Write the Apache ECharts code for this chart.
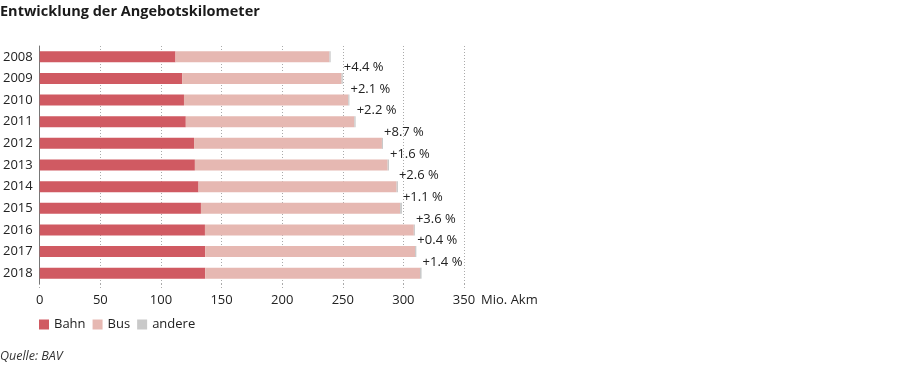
<!DOCTYPE html>
<html><head><meta charset="utf-8">
<script src="https://cdn.jsdelivr.net/npm/echarts@6/dist/echarts.min.js"></script>
<style>html,body{margin:0;padding:0;background:#fff}#c{width:900px;height:367px}</style>
</head><body><div id="c"></div>
<script>
const years = ['2008','2009','2010','2011','2012','2013','2014','2015','2016','2017','2018'];
const bahn = [112, 117.5, 119, 120.5, 127.3, 128, 131, 133, 136.3, 136.5, 136.5];
const bus = [127, 131.5, 135.5, 139, 155, 159, 163.4, 164.3, 172.3, 173.1, 177.2];
const andere = [1, 1, 1, 1.1, 0.9, 1.1, 1.1, 1.5, 0.9, 1.1, 1.3];
const pctLabels = ['', '+4.4 %', '+2.1 %', '+2.2 %', '+8.7 %', '+1.6 %', '+2.6 %', '+1.1 %', '+3.6 %', '+0.4 %', '+1.4 %'];
const xTicks = [0, 50, 100, 150, 200, 250, 300, 350];

const FONT = '"Open Sans", "Noto Sans", sans-serif';
const chart = echarts.init(document.getElementById('c'), null, {renderer: 'canvas'});
chart.setOption({
  animation: false,
  textStyle: {fontFamily: FONT},
  title: [
    {text: 'Entwicklung der Angebotskilometer', left: -5, top: -1,
     textStyle: {fontFamily: FONT, fontSize: 14.5, fontWeight: 'bold', color: '#1a1a1a'}},
    {text: 'Quelle: BAV', left: -5, top: 345,
     textStyle: {fontFamily: FONT, fontSize: 12.5, fontStyle: 'italic', fontWeight: 'normal', color: '#333'}}
  ],
  legend: {
    left: 34, top: 313, itemWidth: 10, itemHeight: 10, itemGap: 7, icon: 'rect',
    textStyle: {fontFamily: FONT, fontSize: 13, color: '#222'},
    data: ['Bahn', 'Bus', 'andere']
  },
  grid: {left: 38, right: 436, top: 46, bottom: 83, containLabel: false},
  xAxis: {
    type: 'value', min: xTicks[0], max: xTicks[xTicks.length - 1], interval: 50,
    name: 'Mio. Akm', nameLocation: 'end', nameGap: 12,
    nameTextStyle: {fontFamily: FONT, fontSize: 13, color: '#222', verticalAlign: 'top', padding: [10, 0, 0, 0]},
    axisLine: {show: false},
    axisTick: {show: true, length: 6, lineStyle: {color: '#aaa', type: [1, 2]}},
    axisLabel: {fontFamily: FONT, fontSize: 13, color: '#222', margin: 10},
    splitLine: {show: true, lineStyle: {color: '#aaa', type: [1, 2], width: 1}}
  },
  yAxis: {
    type: 'category', data: years, inverse: true,
    axisLine: {show: true, lineStyle: {color: '#777', width: 1}},
    axisTick: {show: false},
    axisLabel: {fontFamily: FONT, fontSize: 13, color: '#222', margin: 7}
  },
  series: [
    {name: 'Bahn', type: 'bar', stack: 't', data: bahn, barWidth: 11, itemStyle: {color: '#d05a62'}},
    {name: 'Bus', type: 'bar', stack: 't', data: bus, barWidth: 11, itemStyle: {color: '#e6b8b2'}},
    {name: 'andere', type: 'bar', stack: 't', data: andere, barWidth: 11, itemStyle: {color: '#c9c9c9'},
     label: {show: true, position: 'right', distance: 1, offset: [0, -11],
             fontFamily: FONT, fontSize: 13, color: '#222',
             formatter: p => pctLabels[p.dataIndex]}}
  ]
});
</script></body></html>
